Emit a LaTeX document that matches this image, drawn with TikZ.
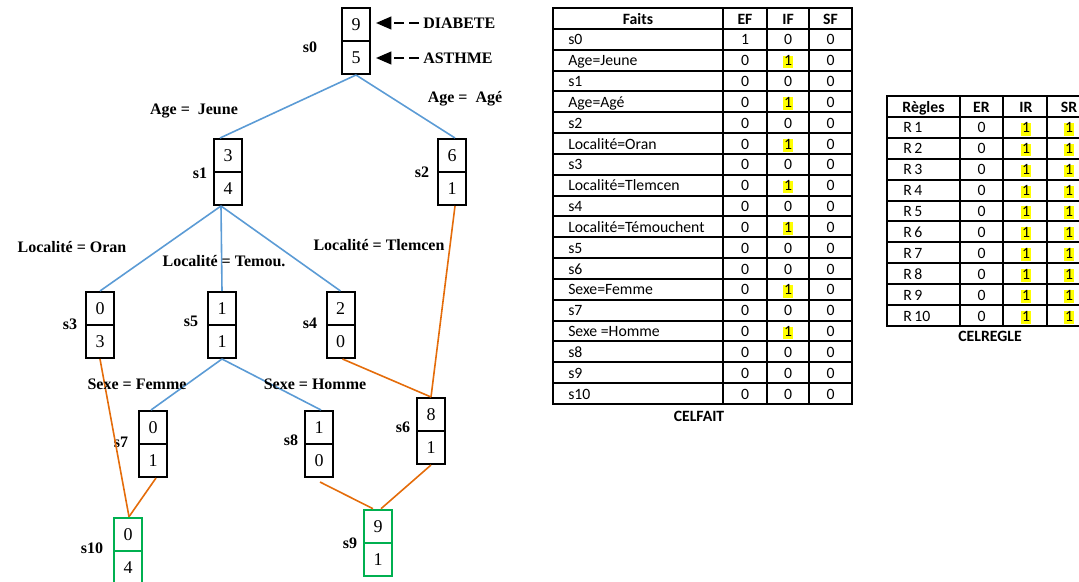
\documentclass[tikz,border=0pt]{standalone}
\usepackage{fontspec}
\setmainfont{Liberation Serif}
\newfontfamily\calfont{Carlito}
\usetikzlibrary{arrows.meta,calc}
\definecolor{eblue}{HTML}{5B9BD5}
\definecolor{eorange}{HTML}{E46C0A}
\definecolor{sgreen}{HTML}{00B050}
\definecolor{hl}{HTML}{FFFF00}
\newcommand\mkstate[6][cell]{%
  \node[#1] (#2a) at (#3,#4+16.5) {#5};
  \node[#1] (#2b) at (#3,#4+49.5) {#6};}
\begin{document}
\begin{tikzpicture}[x=0.75pt,y=-0.75pt,
  cell/.style={draw=black,line width=1.5pt,minimum width=21pt,minimum height=24.75pt,inner sep=0pt,font=\fontsize{13.5}{14}\selectfont},
  gcell/.style={cell,draw=sgreen,line width=1.9pt},
  slab/.style={font=\bfseries\fontsize{12}{13}\selectfont,inner sep=0pt},
  bedge/.style={draw=eblue,line width=1.2pt},
  oedge/.style={draw=eorange,line width=1.2pt},
  tline/.style={line width=1.5pt,line cap=rect},
  ttxt/.style={font=\calfont\fontsize{11.8}{12}\selectfont,inner sep=0pt,anchor=base},
  thd/.style={ttxt,font=\calfont\bfseries\fontsize{11.8}{12}\selectfont},
  hy/.style={fill=hl,text height=7.6pt,text depth=2pt,inner xsep=0.4pt},
  hn/.style={},
  ptr/.style={line width=1.5pt,dash pattern=on 7.5pt off 3.75pt,-{Triangle[length=11.5pt,width=9.5pt]},shorten <=3pt,shorten >=3.75pt}
]
\useasboundingbox (0,0) rectangle (1079,582);
\clip (0,0) rectangle (1079,582);

% ---- tree states
\mkstate{s0}{356}{8}{9}{5}
\mkstate{s1}{228}{139}{3}{4}
\mkstate{s2}{452}{139}{6}{1}
\mkstate{s3}{100}{292}{0}{3}
\mkstate{s5}{222}{292}{1}{1}
\mkstate{s4}{340.5}{292}{2}{0}
\mkstate{s7}{153}{411}{0}{1}
\mkstate{s8}{319}{411}{1}{0}
\mkstate{s6}{431}{398}{8}{1}
\mkstate[gcell]{s10}{128}{518}{0}{4}
\mkstate[gcell]{s9}{378}{510}{9}{1}

% state labels
\node[slab] (l0) at (310,47) {s0};
\node[slab] (l1) at (200,173) {s1};
\node[slab] (l2) at (422,172) {s2};
\node[slab] (l3) at (70,324) {s3};
\node[slab] (l5) at (191,321) {s5};
\node[slab] (l4) at (310,323) {s4};
\node[slab] (l7) at (121,442) {s7};
\node[slab] (l8) at (291,440) {s8};
\node[slab] (l6) at (403,427) {s6};
\node[slab] (l10) at (92,548) {s10};
\node[slab] (l9) at (350,543) {s9};

% blue edges
\draw[bedge] (s0b.south) -- ($(s1a.north)+(-8,0)$);
\draw[bedge] (s0b.south) -- ($(s2a.north)+(3,0)$);
\draw[bedge] ($(s1b.south)+(-7,0)$) -- (s3a.north);
\draw[bedge] ($(s1b.south)+(-7,0)$) -- (s5a.north);
\draw[bedge] ($(s1b.south)+(-7,0)$) -- (s4a.north);
\draw[bedge] (s5b.south) -- ($(s7a.north)+(-2,0)$);
\draw[bedge] (s5b.south) -- ($(s8a.north)+(2,0)$);
% orange edges
\coordinate (c8) at (320,482);
\draw[oedge] ($(s2b.south)+(3,0)$) -- (s6a.north);
\draw[oedge] ($(s4b.south)+(2,0)$) -- (s6a.north);
\draw[oedge] (s3b.south) -- ($(s10a.north)+(1,0)$);
\draw[oedge] ($(s7b.south)+(3,0)$) -- ($(s10a.north)+(1,0)$);
\draw[oedge] (c8) -- ($(s9a.north)+(-5,0)$);
\draw[oedge] (s6b.south) -- ($(s9a.north)+(3,0)$);

% edge labels
\node[slab] (e1) at (194,111) {Age =\ \ Jeune};
\node[slab] (e2) at (465,99) {Age =\ \ Agé};
\node[slab] (e3) at (72,247) {Localité = Oran};
\node[slab] (e4) at (224,261) {Localité = Temou.};
\node[slab] (e5) at (379,245) {Localité = Tlemcen};
\node[slab] (e6) at (137,384) {Sexe = Femme};
\node[slab] (e7) at (315,384) {Sexe = Homme};

% pointers
\node[slab,anchor=west] (dia) at (423,23) {DIABETE};
\node[slab,anchor=west] (ast) at (423,58) {ASTHME};
\draw[ptr] (dia.west) -- (dia.west -| s0a.east);
\draw[ptr] (ast.west) -- (ast.west -| s0b.east);

% ---- CELFAIT
\foreach \k in {0,...,19} \draw[tline] (553,8+20.842*\k) -- (852,8+20.842*\k);
\foreach \xx in {553,723,767,809,852} \draw[tline] (\xx,8) -- (\xx,404);
\node[thd] (fh1) at (638,24) {Faits};
\node[thd] (fh2) at (745,24) {EF};
\node[thd] (fh3) at (788,24) {IF};
\node[thd] (fh4) at (830.5,24) {SF};
\foreach \t/\e/\v/\h [count=\i] in {s0/1/0/hn, Age=Jeune/0/1/hy, s1/0/0/hn, Age=Agé/0/1/hy, s2/0/0/hn, Localité=Oran/0/1/hy, s3/0/0/hn, Localité=Tlemcen/0/1/hy, s4/0/0/hn, Localité=Témouchent/0/1/hy, s5/0/0/hn, s6/0/0/hn, Sexe=Femme/0/1/hy, s7/0/0/hn, Sexe =Homme/0/1/hy, s8/0/0/hn, s9/0/0/hn, s10/0/0/hn} {
  \node[ttxt,anchor=base west] (fa\i) at (568,8+20.842*\i+16) {\t};
  \node[ttxt] (fb\i) at (745,8+20.842*\i+16) {\e};
  \node[ttxt,\h] (fc\i) at (788,8+20.842*\i+16) {\v};
  \node[ttxt] (fd\i) at (830.5,8+20.842*\i+16) {0};
}
\node[thd] (cap1) at (699,421) {CELFAIT};

% ---- CELREGLE
\foreach \k in {0,...,11} \draw[tline] (887,96+20.909*\k) -- (1085,96+20.909*\k);
\foreach \xx in {887,960,1003,1047} \draw[tline] (\xx,96) -- (\xx,326);
\node[thd] (rh1) at (923.5,112) {Règles};
\node[thd] (rh2) at (981.5,112) {ER};
\node[thd] (rh3) at (1026,112) {IR};
\node[thd] (rh4) at (1069,112) {SR};
\foreach \i in {1,...,10} {
  \node[ttxt,anchor=base west] (ra\i) at (903,96+20.909*\i+16) {R\,\i};
  \node[ttxt] (rb\i) at (981.5,96+20.909*\i+16) {0};
  \node[ttxt,hy] (rc\i) at (1026,96+20.909*\i+16) {1};
  \node[ttxt,hy] (rd\i) at (1069,96+20.909*\i+16) {1};
}
\node[thd] (cap2) at (990,341) {CELREGLE};
\end{tikzpicture}
\end{document}
